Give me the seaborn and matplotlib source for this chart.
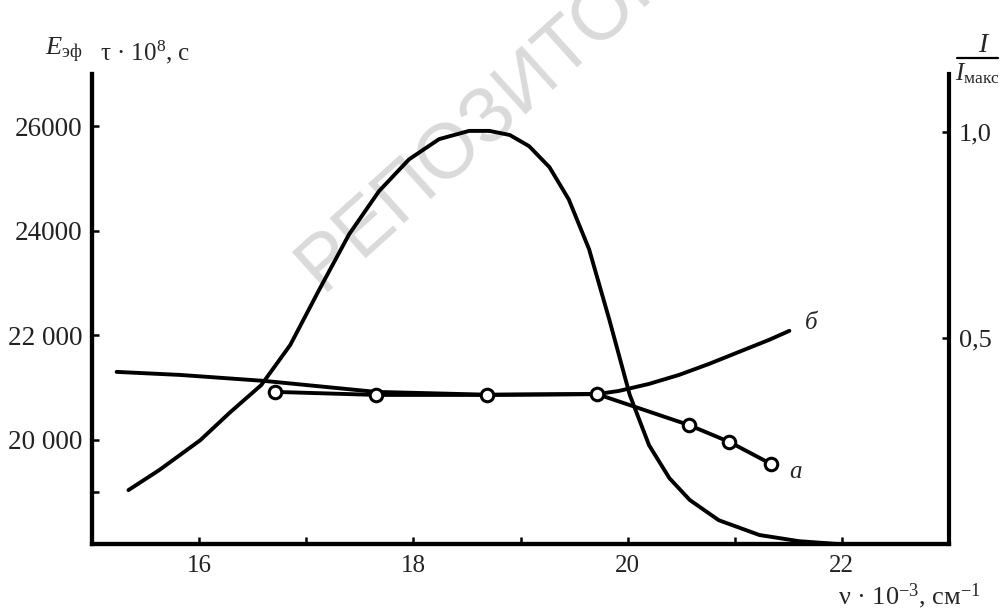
import matplotlib
matplotlib.use("Agg")
import matplotlib.pyplot as plt
from matplotlib.lines import Line2D
import seaborn as sns
from matplotlib.ticker import FixedLocator, NullFormatter

# ---- data ----
# curve "a" (open circles), left axis
nu_a = [16.71, 17.65, 18.69, 19.71, 20.57, 20.95, 21.34]
E_a = [20914, 20856, 20856, 20875, 20281, 19955, 19533]

# curve "б", left axis
nu_b = [15.23, 15.82, 16.61, 17.65, 18.69, 19.71, 19.92, 20.20, 20.48, 20.76, 21.04, 21.32, 21.51]
E_b = [21297, 21239, 21124, 20914, 20860, 20870, 20933, 21067, 21239, 21450, 21680, 21910, 22083]

# luminescence band I/I_max, right axis
nu_I = [15.34, 15.63, 16.01, 16.29, 16.58, 16.85, 17.12, 17.40, 17.68, 17.96, 18.24,
        18.52, 18.71, 18.90, 19.08, 19.27, 19.45, 19.64, 19.83, 20.02, 20.20, 20.39,
        20.58, 20.85, 21.23, 21.60, 21.97]
I_rel = [0.131, 0.180, 0.252, 0.320, 0.386, 0.483, 0.617, 0.752, 0.857, 0.934, 0.983,
         1.003, 1.003, 0.993, 0.966, 0.915, 0.837, 0.716, 0.544, 0.362, 0.240, 0.160,
         0.107, 0.058, 0.022, 0.007, 0.0]

x_major = [16, 18, 20, 22]
x_minor = [17, 19, 21]
y_left_major = [20000, 22000, 24000, 26000]
y_left_labels = ["20 000", "22 000", "24000", "26000"]
y_left_minor = [19000]
y_right_major = [0.5, 1.0]
y_right_labels = ["0,5", "1,0"]

# ---- style ----
sns.set_theme(style="white")
plt.rcParams["font.family"] = ["Liberation Serif", "DejaVu Serif"]
plt.rcParams["mathtext.fontset"] = "custom"
plt.rcParams["mathtext.rm"] = "Liberation Serif"
plt.rcParams["mathtext.it"] = "Liberation Serif:italic"
plt.rcParams["mathtext.bf"] = "Liberation Serif:bold"

fig = plt.figure(figsize=(10, 6.12), dpi=100)
fig.patch.set_facecolor("white")
ax = fig.add_axes([0.092, 0.111, 0.857, 0.768])
ax.set_facecolor("none")
ax2 = ax.twinx()
ax2.set_facecolor("none")

# watermark
fig.text(0.322, 0.522, "РЕПОЗИТОРИЙ", rotation=42, rotation_mode="anchor",
         ha="left", va="baseline", fontsize=56, color="#dadada",
         family="Liberation Sans", zorder=-5)

lw = 2.8
sns.lineplot(x=nu_b, y=E_b, ax=ax, color="black", linewidth=lw)
sns.lineplot(x=nu_a, y=E_a, ax=ax, color="black", linewidth=lw, marker="o",
             markersize=9, markerfacecolor="white", markeredgecolor="black",
             markeredgewidth=2.2)
sns.lineplot(x=nu_I, y=I_rel, ax=ax2, color="black", linewidth=lw)

ax.set_xlim(15, 23)
ax.set_ylim(18000, 27000)
ax2.set_ylim(0, 1.141)
ax.set_xlabel("")
ax.set_ylabel("")
ax2.set_ylabel("")

ax.xaxis.set_major_locator(FixedLocator(x_major))
ax.xaxis.set_minor_locator(FixedLocator(x_minor))
ax.set_xticklabels([str(v) for v in x_major])
ax.xaxis.set_minor_formatter(NullFormatter())
ax.yaxis.set_major_locator(FixedLocator(y_left_major))
ax.set_yticklabels(y_left_labels)
ax.yaxis.set_minor_locator(FixedLocator(y_left_minor))
ax.yaxis.set_minor_formatter(NullFormatter())
ax2.yaxis.set_major_locator(FixedLocator(y_right_major))
ax2.set_yticklabels(y_right_labels)

for a in (ax, ax2):
    a.tick_params(which="both", direction="in", length=5, width=1.8, color="black",
                  labelcolor="#222222", pad=8)
    for s in a.spines.values():
        s.set_linewidth(3)
        s.set_color("black")
    a.spines["top"].set_visible(False)
ax.spines["right"].set_visible(False)
ax.tick_params(axis="x", labelsize=18, pad=8)
ax.tick_params(axis="y", labelsize=19.5, pad=7)
ax2.tick_params(axis="y", labelsize=19, pad=7)
ax.yaxis.set_ticks_position("left")
ax.xaxis.set_ticks_position("bottom")

# curve labels
ax.text(21.71, 22236, "б", style="italic", fontsize=18, ha="center", va="center")
ax.text(21.57, 19380, "а", style="italic", fontsize=18, ha="center", va="center")

# axis titles
fig.text(0.045, 1 - 50 / 612, r"$E_{\mathrm{эф}}$", fontsize=19, ha="left", va="center")
fig.text(0.100, 1 - 52 / 612, "τ · 10$^{8}$, с", fontsize=18, ha="left", va="center")

# right-hand fraction I / I_макс
fig.text(0.984, 1 - 45 / 612, r"$I$", fontsize=20, ha="center", va="center")
fig.add_artist(Line2D([0.957, 0.998], [1 - 58 / 612, 1 - 58 / 612],
                      transform=fig.transFigure, color="black", linewidth=1.6))
fig.text(0.955, 1 - 74 / 612, r"$I_{\mathrm{макс}}$", fontsize=18, ha="left", va="center")

fig.text(0.838, 1 - 596 / 612, "ν · 10$^{-3}$, см$^{-1}$", fontsize=19,
         ha="left", va="center")

fig.savefig("out.png", dpi=100, facecolor="white")
